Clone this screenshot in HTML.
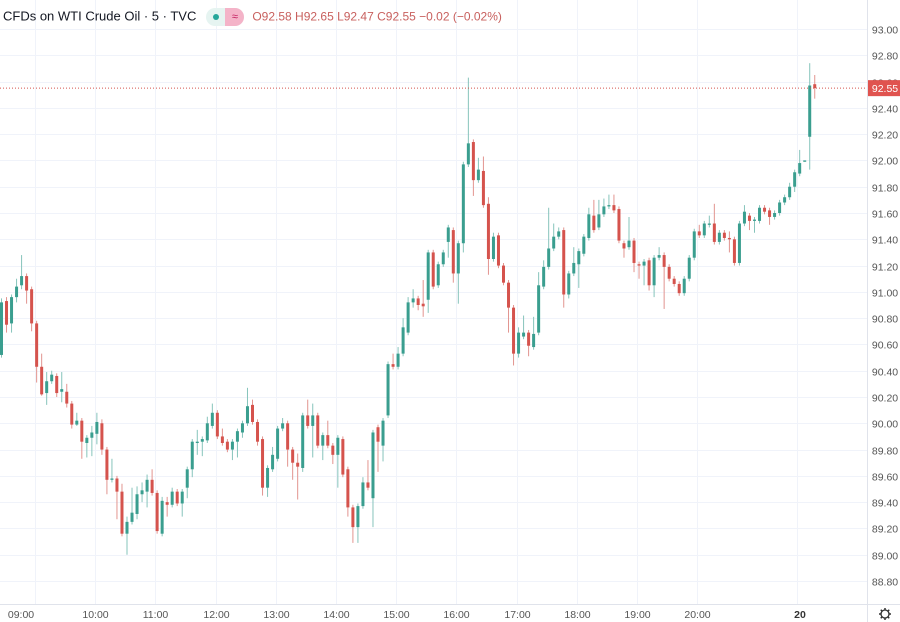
<!DOCTYPE html>
<html><head><meta charset="utf-8"><style>
html,body{margin:0;padding:0;background:#fff;}
body{width:900px;height:622px;overflow:hidden;position:relative;font-family:"Liberation Sans",sans-serif;}
#hdr{position:absolute;left:3px;top:8px;font-size:13px;color:#131722;white-space:nowrap;}
#hdr .pill{display:inline-block;vertical-align:middle;width:38px;height:18px;border-radius:9px;background:#e6f4f1;position:relative;margin:0 8px 0 10px;}
#hdr .dot{position:absolute;left:7px;top:6px;width:6px;height:6px;border-radius:3px;background:#26a69a;}
#hdr .half{position:absolute;right:0;top:0;width:19px;height:18px;border-radius:0 9px 9px 0;background:#f4b3c8;color:#c2185b;font-size:11px;text-align:center;line-height:18px;}
#hdr .ohlc{color:#c8605e;font-size:12px;}
</style></head><body>
<svg id="chart" width="900" height="622" style="position:absolute;left:0;top:0" xmlns="http://www.w3.org/2000/svg">
<g id="grid"></g>
<g id="candles"></g>
<g id="axes"></g>
</svg>
<div id="hdr"><span>CFDs on WTI Crude Oil · 5 · TVC</span><span class="pill"><span class="dot"></span><span class="half">≈</span></span><span class="ohlc">O92.58 H92.65 L92.47 C92.55 −0.02 (−0.02%)</span></div>
<script>
const opens=[90.52,90.93,90.76,90.96,91.05,91.12,91.02,90.76,90.43,90.23,90.32,90.36,90.24,90.24,90.15,89.99,90.02,89.85,89.89,89.92,90.00,89.80,89.57,89.58,89.48,89.16,89.25,89.31,89.46,89.48,89.57,89.47,89.16,89.40,89.38,89.48,89.39,89.51,89.65,89.85,89.86,89.87,89.98,90.08,89.90,89.86,89.80,89.86,89.93,90.00,90.14,90.01,89.88,89.51,89.65,89.73,89.96,90.00,89.80,89.70,89.66,90.06,89.98,90.06,89.83,89.91,89.83,89.76,89.88,89.65,89.36,89.21,89.37,89.55,89.43,89.97,89.83,90.06,90.45,90.43,90.53,90.69,90.92,90.95,90.91,90.94,91.30,91.05,91.21,91.38,91.47,91.14,91.37,91.97,92.14,91.85,91.92,91.67,91.25,91.43,91.20,91.07,90.88,90.53,90.66,90.69,90.58,90.69,91.04,91.19,91.33,91.42,91.47,90.98,91.14,91.21,91.29,91.41,91.58,91.49,91.59,91.65,91.66,91.63,91.37,91.34,91.39,91.21,91.20,91.24,91.05,91.26,91.28,91.19,91.10,91.06,90.99,91.10,91.26,91.46,91.43,91.51,91.52,91.38,91.45,91.41,91.40,91.22,91.52,91.58,91.54,91.54,91.64,91.62,91.57,91.60,91.68,91.72,91.80,91.90,91.99,92.18,92.58];
const highs=[90.95,90.96,90.98,91.10,91.28,91.14,91.04,90.78,90.53,90.39,90.40,90.38,90.39,90.30,90.17,90.08,90.04,89.91,89.98,90.08,90.03,89.82,89.73,89.60,89.54,89.29,89.51,89.52,89.55,89.61,89.65,89.49,89.44,89.44,89.51,89.50,89.50,89.67,89.88,89.95,89.90,90.05,90.15,90.10,89.96,89.88,89.88,89.96,90.02,90.27,90.18,90.03,89.90,89.68,89.82,89.98,90.04,90.02,89.82,89.77,90.08,90.18,90.15,90.08,89.93,90.02,89.85,89.91,89.90,89.67,89.38,89.39,89.59,89.72,89.95,89.99,90.04,90.47,90.53,90.58,90.80,90.96,91.02,90.97,91.09,91.32,91.32,91.23,91.32,91.51,91.49,91.39,91.99,92.63,92.16,92.02,92.03,91.72,91.45,91.45,91.22,91.09,90.90,90.73,90.82,90.71,90.81,91.15,91.24,91.64,91.52,91.49,91.49,91.16,91.34,91.33,91.44,91.64,91.70,91.70,91.71,91.74,91.74,91.65,91.39,91.57,91.41,91.23,91.25,91.26,91.28,91.34,91.30,91.21,91.12,91.08,91.12,91.28,91.48,91.51,91.54,91.58,91.67,91.47,91.47,91.46,91.42,91.54,91.66,91.60,91.57,91.66,91.66,91.64,91.62,91.70,91.74,91.83,91.93,92.08,92.00,92.74,92.65];
const lows=[90.50,90.69,90.69,90.92,91.02,90.91,90.70,90.31,90.21,90.14,90.30,90.20,90.16,90.12,89.96,89.98,89.73,89.74,89.75,89.84,89.76,89.46,89.55,89.27,89.14,89.00,89.23,89.27,89.40,89.36,89.45,89.16,89.14,89.29,89.36,89.37,89.29,89.43,89.59,89.76,89.75,89.85,89.96,89.88,89.83,89.78,89.72,89.74,89.89,89.98,89.99,89.83,89.45,89.44,89.63,89.71,89.94,89.67,89.57,89.42,89.63,89.96,89.74,89.81,89.72,89.81,89.69,89.51,89.59,89.29,89.09,89.09,89.35,89.49,89.21,89.63,89.71,90.04,90.41,90.41,90.51,90.67,90.88,90.86,90.81,90.84,91.02,91.03,91.19,91.26,91.07,90.91,91.30,91.95,91.73,91.83,91.64,91.13,91.23,91.18,91.05,90.69,90.44,90.50,90.64,90.51,90.56,90.67,91.02,91.17,91.31,91.40,90.88,90.95,91.12,91.03,91.27,91.39,91.45,91.47,91.57,91.63,91.60,91.37,91.26,91.32,91.15,91.10,91.05,91.01,90.96,91.24,90.87,91.08,91.04,90.97,90.97,91.08,91.24,91.41,91.41,91.49,91.36,91.36,91.39,91.30,91.20,91.20,91.50,91.47,91.45,91.52,91.59,91.51,91.55,91.58,91.66,91.70,91.76,91.88,91.99,91.93,92.47];
const closes=[90.92,90.75,90.96,91.04,91.12,91.01,90.76,90.43,90.22,90.32,90.37,90.23,90.26,90.15,89.99,90.02,89.86,89.89,89.93,90.01,89.80,89.57,89.58,89.48,89.16,89.25,89.32,89.46,89.49,89.57,89.47,89.18,89.41,89.38,89.48,89.39,89.48,89.65,89.86,89.86,89.88,90.00,90.08,89.90,89.85,89.80,89.86,89.94,90.00,90.13,90.01,89.86,89.51,89.66,89.76,89.96,90.00,89.80,89.70,89.67,90.06,89.98,90.06,89.83,89.91,89.83,89.76,89.89,89.61,89.36,89.21,89.37,89.55,89.51,89.93,89.86,90.02,90.45,90.43,90.53,90.73,90.92,90.95,90.90,90.89,91.30,91.04,91.21,91.30,91.49,91.14,91.37,91.97,92.13,91.85,91.93,91.66,91.25,91.42,91.20,91.07,90.88,90.53,90.69,90.69,90.59,90.68,91.05,91.19,91.33,91.42,91.46,90.98,91.14,91.22,91.31,91.42,91.59,91.47,91.59,91.65,91.66,91.62,91.39,91.33,91.39,91.22,91.20,91.23,91.05,91.26,91.28,91.19,91.10,91.06,90.99,91.10,91.26,91.46,91.43,91.52,91.52,91.38,91.45,91.41,91.40,91.22,91.52,91.61,91.54,91.55,91.64,91.61,91.57,91.60,91.68,91.72,91.80,91.91,91.98,92.00,92.57,92.55];
const priceTicks=[93.00,92.80,92.60,92.40,92.20,92.00,91.80,91.60,91.40,91.20,91.00,90.80,90.60,90.40,90.20,90.00,89.80,89.60,89.40,89.20,89.00,88.80];
const timeLabels=["09:00","10:00","11:00","12:00","13:00","14:00","15:00","16:00","17:00","18:00","19:00","20:00"];
const lastPrice=92.55;

const NS="http://www.w3.org/2000/svg";
const PLOT_R=867, PLOT_B=604;
function yOf(p){return 29+(93-p)*131.43;}
function xOf(i){return 0.5+i*5.02;}
function mk(tag,attrs,parent){const e=document.createElementNS(NS,tag);for(const k in attrs)e.setAttribute(k,attrs[k]);parent.appendChild(e);return e;}
const grid=document.getElementById('grid'),cg=document.getElementById('candles'),ax=document.getElementById('axes');

priceTicks.forEach(p=>{
  const y=Math.round(yOf(p))+0.5;
  const l=mk('line',{x1:0,x2:PLOT_R,y1:y,y2:y,stroke:'#f0f3fa','stroke-width':1},grid);
  
  
  const t=mk('text',{x:885,y:y+4,'font-size':'10.5','text-anchor':'middle',fill:'#555','font-family':'Liberation Sans, sans-serif'},ax);
  t.textContent=p.toFixed(2);
  
  
});
timeLabels.forEach((s,k)=>{
  const x=Math.round(35+k*60.2)+0.5;
  const l=mk('line',{x1:x,x2:x,y1:0,y2:PLOT_B,stroke:'#f0f3fa','stroke-width':1},grid);
  
  
  const t=mk('text',{x:k===0?21:x,y:618,'font-size':'10.5','text-anchor':'middle',fill:'#555','font-family':'Liberation Sans, sans-serif'},ax);
  t.textContent=s;
  
  
});
(function(){
  const l=mk('line',{x1:797.5,x2:797.5,y1:0,y2:PLOT_B,stroke:'#f0f3fa','stroke-width':1},grid);
  
  
  const t=mk('text',{x:800,y:618,'font-size':'10.5','font-weight':'bold','text-anchor':'middle',fill:'#333','font-family':'Liberation Sans, sans-serif'},ax);
  t.textContent='20';
  
  
})();

for(let i=0;i<closes.length;i++){
  const up=closes[i]>=opens[i];
  const col=up?'#3a9e8f':'#d5534d';
  const x=xOf(i);
  const w=mk('line',{x1:x+1,x2:x+1,y1:yOf(highs[i]),y2:yOf(lows[i]),stroke:up?'#86c4bb':'#e2948f','stroke-width':1},cg);
  
  
  const top=yOf(Math.max(opens[i],closes[i])),bot=yOf(Math.min(opens[i],closes[i]));
  const b=mk('rect',{x:x-0.5,y:top,width:3,height:Math.max(1,bot-top),fill:col},cg);
  
  
}

const ly=yOf(lastPrice);
const pl=mk('line',{x1:0,x2:PLOT_R,y1:ly,y2:ly,stroke:'#d5534d','stroke-width':1,'stroke-dasharray':'1,2'},ax);


mk('line',{x1:PLOT_R+0.5,x2:PLOT_R+0.5,y1:0,y2:622,stroke:'#e0e3eb','stroke-width':1},ax);
mk('line',{x1:0,x2:900,y1:PLOT_B+0.5,y2:PLOT_B+0.5,stroke:'#e0e3eb','stroke-width':1},ax);
const lb=mk('rect',{x:868,y:ly-8,width:32,height:16,fill:'#e0534f'},ax);


const lt=mk('text',{x:885,y:ly+4,'font-size':'10.5','text-anchor':'middle',fill:'#fff','font-family':'Liberation Sans, sans-serif'},ax);
lt.textContent=lastPrice.toFixed(2);


const gear=mk('g',{transform:'translate(885,614)'},ax);


mk('circle',{cx:0,cy:0,r:4,fill:'none',stroke:'#333','stroke-width':1.3},gear);
for(let a=0;a<8;a++){const r=a*Math.PI/4;mk('line',{x1:Math.cos(r)*4,y1:Math.sin(r)*4,x2:Math.cos(r)*6,y2:Math.sin(r)*6,stroke:'#333','stroke-width':1.5},gear);}
</script>
</body></html>
